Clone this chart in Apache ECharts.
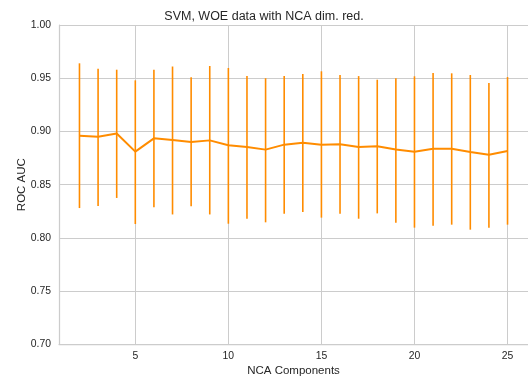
<!DOCTYPE html>
<html>
<head>
<meta charset="utf-8">
<script src="https://cdn.jsdelivr.net/npm/echarts@6/dist/echarts.min.js"></script>
<style>html,body{margin:0;padding:0;background:#fff;}#c{width:528px;height:383px;}</style>
</head>
<body>
<div id="c"></div>
<script>
var components = [2,3,4,5,6,7,8,9,10,11,12,13,14,15,16,17,18,19,20,21,22,23,24,25];
var meanAuc  = [0.896,0.895,0.898,0.881,0.8935,0.892,0.890,0.8916,0.887,0.8854,0.8829,0.8876,0.8894,0.8876,0.888,0.8854,0.886,0.883,0.881,0.8838,0.8838,0.8807,0.878,0.8816];
var lowerAuc = [0.828,0.830,0.8375,0.813,0.8287,0.822,0.8297,0.822,0.8133,0.818,0.8146,0.8227,0.8243,0.819,0.8227,0.818,0.823,0.8143,0.8096,0.8115,0.8124,0.8077,0.8096,0.8124];
var upperAuc = [0.964,0.959,0.958,0.948,0.958,0.961,0.951,0.9615,0.9596,0.952,0.950,0.952,0.954,0.9565,0.953,0.952,0.9486,0.950,0.9518,0.9549,0.9546,0.953,0.9455,0.9511];
var xTickValues = [5,10,15,20,25];

var FONT = '"Liberation Sans", Arial, sans-serif';
var ORANGE = '#ff8c00';
var GRID = '#cccccc';

var errData = components.map(function(c,i){ return [c, lowerAuc[i], upperAuc[i]]; });
var lineData = components.map(function(c,i){ return [c, meanAuc[i]]; });

var chart = echarts.init(document.getElementById('c'), null, {renderer:'canvas'});
chart.setOption({
  animation: false,
  backgroundColor: '#ffffff',
  title: {
    text: 'SVM, WOE data with NCA dim. red.',
    left: 'center', top: 5,
    textStyle: {fontFamily: FONT, fontSize: 12.5, fontWeight: 'normal', color: '#262626'}
  },
  grid: {left: 59, top: 25, width: 470, height: 319.3, containLabel: false},
  xAxis: {
    type: 'value', min: 0.9, max: 26.1,
    name: 'NCA Components', nameLocation: 'middle', nameGap: 21, nameMoveOverlap: false,
    nameTextStyle: {fontFamily: FONT, fontSize: 11.5, color: '#262626'},
    axisLine: {show: true, lineStyle: {color: GRID, width: 1.25}},
    axisTick: {show: false, customValues: xTickValues},
    axisLabel: {customValues: xTickValues, fontFamily: FONT, fontSize: 10.4, color: '#262626', margin: 7},
    splitLine: {show: true, lineStyle: {color: GRID, width: 1}}
  },
  yAxis: {
    type: 'value', min: 0.7, max: 1.0, interval: 0.05,
    name: 'ROC AUC', nameLocation: 'middle', nameGap: 31, nameMoveOverlap: false,
    nameTextStyle: {fontFamily: FONT, fontSize: 11.5, color: '#262626'},
    axisLine: {show: true, lineStyle: {color: GRID, width: 1.25}},
    axisTick: {show: false},
    axisLabel: {fontFamily: FONT, fontSize: 10.4, color: '#262626', margin: 8,
      formatter: function(v){ return v.toFixed(2); }},
    splitLine: {show: true, lineStyle: {color: GRID, width: 1}}
  },
  series: [
    {
      type: 'custom',
      data: errData,
      renderItem: function(params, api){
        var p1 = api.coord([api.value(0), api.value(1)]);
        var p2 = api.coord([api.value(0), api.value(2)]);
        return {type: 'line', shape: {x1: p1[0], y1: p1[1], x2: p2[0], y2: p2[1]},
          style: {stroke: ORANGE, lineWidth: 1.6}};
      },
      z: 3
    },
    {
      type: 'line',
      data: lineData,
      showSymbol: false,
      symbol: 'none',
      lineStyle: {color: ORANGE, width: 2},
      z: 4
    }
  ]
});
</script>
</body>
</html>
